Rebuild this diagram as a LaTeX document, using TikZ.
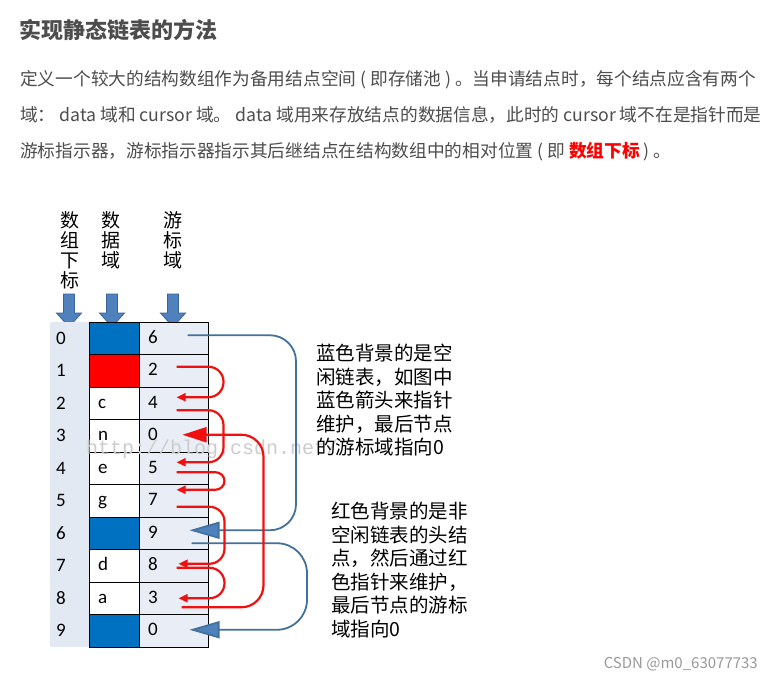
\documentclass[tikz,border=0pt]{standalone}
\usepackage{fontspec}
\newfontfamily\cjk{Noto Sans CJK SC}
\newfontfamily\cellfont{Carlito}
\newfontfamily\wmfont{Liberation Mono}
\usetikzlibrary{calc,arrows.meta}
\definecolor{textgray}{HTML}{4D4D4D}
\definecolor{emred}{HTML}{FF0000}
\definecolor{idxfill}{HTML}{E3E9F2}
\definecolor{curfill}{HTML}{E9EEF6}
\definecolor{cellblue}{HTML}{0070C0}
\definecolor{cellred}{HTML}{FF0000}
\definecolor{hdblue}{HTML}{4F81BD}
\definecolor{hdline}{HTML}{3A6496}
\definecolor{linkblue}{HTML}{41719C}
\definecolor{linkred}{HTML}{F01010}
\tikzset{
  cell/.style={draw=black, line width=0.9pt, minimum height=32.5pt, inner xsep=9pt, inner ysep=0pt,
    align=left, text height=13pt, text depth=3pt, font=\cellfont\fontsize{19}{19}\selectfont},
  datcell/.style={cell, text width=32pt},
  curcell/.style={cell, text width=51pt, fill=curfill},
  idxlabel/.style={inner sep=0pt, font=\cellfont\fontsize{19}{19}\selectfont},
  header/.style={align=center, inner sep=0pt, font=\cjk\fontsize{19}{20}\selectfont},
  para/.style={inner sep=0pt, text=textgray, font=\cjk\fontsize{17.7}{17.7}\selectfont},
  note/.style={align=left, inner sep=0pt, font=\cjk\fontsize{19.5}{23.5}\selectfont},
  hdarrow/.style={fill=hdblue, draw=hdline, line width=0.8pt},
  redlink/.style={draw=linkred, line width=2.2pt, rounded corners=15pt,
    -{Triangle[length=9pt,width=8pt]}},
  bluelink/.style={draw=linkblue, line width=1.8pt, rounded corners=26pt,
    -{Triangle[length=30pt,width=17pt,fill=hdblue]}}
}
\begin{document}
\begin{tikzpicture}[x=1pt, y=-1pt]
  \useasboundingbox[fill=white] (0,0) rectangle (772,681);

  % heading and paragraph
  \node[anchor=west, inner sep=0pt, text=textgray, font=\cjk\bfseries\fontsize{22}{22}\selectfont] (title) at (19,30) {实现静态链表的方法};
  \node[para, anchor=west] (line1) at (20,80) {定义一个较大的结构数组作为备用结点空间 ( 即存储池 ) 。当申请结点时，每个结点应含有两个};
  \node[para, anchor=west] (line2) at (20,115) {域： data 域和 cursor 域。 data 域用来存放结点的数据信息，此时的 cursor 域不在是指针而是};
  \node[para, anchor=west] (line3) at (20,152) {游标指示器，游标指示器指示其后继结点在结构数组中的相对位置 ( 即 \textcolor{emred}{\bfseries 数组下标} ) 。};

  % column headers
  \node[header] (hidx) at (70,250) {数\\组\\下\\标};
  \node[header] (hdat) at (111,240) {数\\据\\域};
  \node[header] (hcur) at (173,240) {游\\标\\域};
  \foreach \x in {69,112,173}
    \draw[hdarrow] (\x,327) -- ++(-12.5,-14) -- ++(7,0) -- ++(0,-19) -- ++(11,0) -- ++(0,19) -- ++(7,0) -- cycle;

  % the array
  \fill[idxfill] (50,322) rectangle (89,647);
  \foreach \i/\d/\c/\f in {0//6/cellblue, 1//2/cellred, 2/c/4/white, 3/n/0/white, 4/e/5/white,
                           5/g/7/white, 6//9/cellblue, 7/d/8/white, 8/a/3/white, 9//0/cellblue} {
    \node[idxlabel, anchor=west] (idx\i) at (56,{338.25+32.5*\i}) {\i};
    \node[datcell, fill=\f] (dat\i) at (114,{338.25+32.5*\i}) {\d};
    \node[curcell] (cur\i) at (173.5,{338.25+32.5*\i}) {\c};
  }

  % watermark
  \node[anchor=west, inner sep=0pt, text=black!20, font=\wmfont\fontsize{20}{20}\selectfont] (wm) at (86,449) {http://blog.csdn.net/};

  % free list
  \draw[bluelink] ($(cur0)+(14,-3)$) -| ($(cur6)+(122.5,-3)$) -- ($(cur6)+(16,-3)$);
  \draw[bluelink, rounded corners=30pt] ($(cur6)+(18,10)$) -| ($(cur9)+(133.5,-1)$) -- ($(cur9)+(16,-1)$);

  % used list
  \draw[redlink] ($(cur1)+(3,-4)$) -| ($(cur2)+(50,-6)$) -- ($(cur2)+(3,-6)$);
  \draw[redlink] ($(cur2)+(3,7)$) -| ($(cur4)+(50,-6)$) -- ($(cur4)+(3,-6)$);
  \draw[redlink, rounded corners=9pt] ($(cur4)+(3,4)$) -| ($(cur5)+(51,-11)$) -- ($(cur5)+(3,-11)$);
  \draw[redlink] ($(cur5)+(3,6)$) -| ($(cur7)+(51,-2)$) -- ($(cur7)+(5,-2)$);
  \draw[redlink] ($(cur7)+(3,2)$) -| ($(cur8)+(51,0)$) -- ($(cur8)+(5,0)$);
  \draw[redlink, rounded corners=22pt, -{Triangle[length=24pt,width=15pt]}] ($(cur8)+(8,9)$) -| ($(cur3)+(90,-1)$) -- ($(cur3)+(9,-1)$);

  % notes
  \node[note, anchor=north west] (note1) at (316,344) {蓝色背景的是空\\闲链表，如图中\\蓝色箭头来指针\\维护，最后节点\\的游标域指向0};
  \node[note, anchor=north west] (note2) at (331,502) {红色背景的是非\\空闲链表的头结\\点，然后通过红\\色指针来维护，\\最后节点的游标\\域指向0};
  \node[anchor=east, inner sep=0pt, text=black!40, font=\cjk\fontsize{15}{15}\selectfont] (csdn) at (758,664) {CSDN @m0\_63077733};
\end{tikzpicture}
\end{document}
